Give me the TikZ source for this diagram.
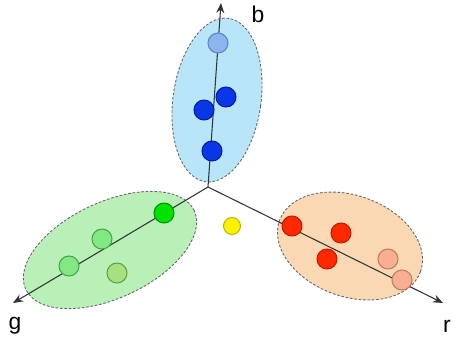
\documentclass[tikz,border=0pt]{standalone}
\usepackage{fontspec}
\setmainfont{Liberation Sans}
\usepackage{xcolor}
\usetikzlibrary{arrows.meta,shapes.geometric}
\definecolor{bluefill}{HTML}{B8E6F8}
\definecolor{greenfill}{HTML}{B8F0B8}
\definecolor{orangefill}{HTML}{FAD8B4}

\begin{document}
\begin{tikzpicture}[
  x=0.02cm, y=-0.02cm,
  cluster/.style={draw=gray!80!black, dash pattern=on 1.5pt off 1pt, ellipse, inner sep=0pt, line width=0.5pt},
  dot/.style={circle, line width=0.6pt, minimum size=0.4cm, inner sep=0pt},
  axis/.style={-{Stealth[length=2mm,width=1.6mm]}, draw=black!80, line width=0.6pt},
  lbl/.style={font=\fontsize{13}{15}\selectfont}
]
\useasboundingbox (0,0) rectangle (457,346);
% clusters
\node[cluster, fill=bluefill, minimum width=1.76cm, minimum height=3.3cm, rotate=-8] (bclust) at (217,100) {};
\node[cluster, fill=greenfill, minimum width=3.72cm, minimum height=1.92cm, rotate=25] (gclust) at (110,250) {};
\node[cluster, fill=orangefill, minimum width=3.0cm, minimum height=2.02cm, rotate=-20] (rclust) at (350,246) {};
% axes
\coordinate (o) at (208,187);
\coordinate (bend) at (221,3);
\coordinate (gend) at (13,303);
\coordinate (rend) at (443,303);
\draw[axis] (o) -- (bend);
\draw[axis] (o) -- (gend);
\draw[axis] (o) -- (rend);
\node[lbl] (blbl) at (258,14) {b};
\node[lbl] (glbl) at (15,326) {g};
\node[lbl] (rlbl) at (447,326) {r};
% blue points
\node[dot, fill={rgb,255:red,140;green,180;blue,240}, draw={rgb,255:red,90;green,135;blue,190}] (b1) at (218,43) {};
\node[dot, fill={rgb,255:red,10;green,55;blue,230}, draw={rgb,255:red,0;green,30;blue,160}] (b2) at (226,97) {};
\node[dot, fill={rgb,255:red,10;green,55;blue,230}, draw={rgb,255:red,0;green,30;blue,160}] (b3) at (204,110) {};
\node[dot, fill={rgb,255:red,10;green,55;blue,230}, draw={rgb,255:red,0;green,30;blue,160}] (b4) at (212,151) {};
% green points
\node[dot, fill={rgb,255:red,0;green,225;blue,0}, draw={rgb,255:red,0;green,150;blue,0}] (g1) at (164,213) {};
\node[dot, fill={rgb,255:red,130;green,232;blue,130}, draw={rgb,255:red,70;green,165;blue,70}] (g2) at (102,239) {};
\node[dot, fill={rgb,255:red,130;green,232;blue,130}, draw={rgb,255:red,70;green,165;blue,70}] (g3) at (69,266) {};
\node[dot, fill={rgb,255:red,165;green,225;blue,125}, draw={rgb,255:red,95;green,160;blue,70}] (g4) at (117,273) {};
% neutral point
\node[dot, minimum size=0.34cm, fill=yellow, draw={rgb,255:red,185;green,185;blue,0}] (y1) at (232,226) {};
% red points
\node[dot, fill={rgb,255:red,255;green,40;blue,0}, draw={rgb,255:red,190;green,30;blue,0}] (r1) at (292,226) {};
\node[dot, fill={rgb,255:red,255;green,40;blue,0}, draw={rgb,255:red,190;green,30;blue,0}] (r2) at (341,233) {};
\node[dot, fill={rgb,255:red,255;green,40;blue,0}, draw={rgb,255:red,190;green,30;blue,0}] (r3) at (327,259) {};
\node[dot, fill={rgb,255:red,248;green,175;blue,145}, draw={rgb,255:red,190;green,125;blue,95}] (r4) at (388,259) {};
\node[dot, fill={rgb,255:red,248;green,175;blue,145}, draw={rgb,255:red,190;green,125;blue,95}] (r5) at (402,280) {};
\end{tikzpicture}
\end{document}
